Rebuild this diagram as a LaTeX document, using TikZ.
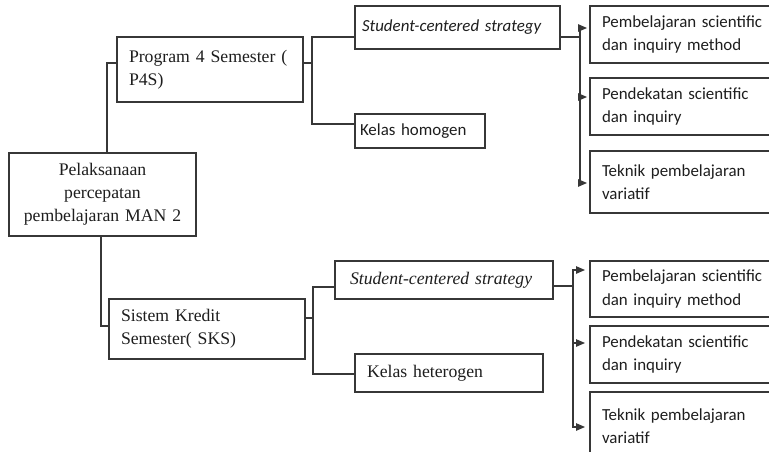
\documentclass[tikz,border=0pt]{standalone}
\usepackage{fontspec}
\setmainfont{Liberation Serif}
\newfontfamily\calfont{Carlito}
\usetikzlibrary{arrows.meta}
\definecolor{lc}{RGB}{55,55,55}
\definecolor{tc}{RGB}{30,30,30}
\begin{document}
\begin{tikzpicture}[x=1pt,y=-1pt,
  every node/.style={inner ysep=0pt, outer sep=0pt},
  bx/.style={draw=lc, line width=1.1pt, anchor=north west, align=left, text=tc},
  tnr/.style={font=\fontsize{17.7}{23}\selectfont},
  cal/.style={font=\calfont\fontsize{16.9}{23.5}\selectfont},
  ln/.style={draw=lc, line width=1.1pt},
  ar/.style={ln, -{Triangle[length=9pt,width=7.5pt]}}]
\clip (0,0) rectangle (769,452);
\fill[white] (0,0) rectangle (769,452);

% nodes
\node[bx,tnr,align=center,text width=179pt,inner xsep=4pt,minimum height=83pt] (root) at (9,153) {Pelaksanaan\\percepatan\\pembelajaran MAN 2};
\node[bx,tnr,text width=162pt,inner xsep=12pt,minimum height=65pt] (p4s) at (117,37) {Program 4 Semester (\\P4S)};
\node[bx,tnr,text width=172pt,inner xsep=12pt,minimum height=60pt] (sks) at (109,299) {Sistem Kredit\\Semester( SKS)};
\node[bx,cal,text width=191pt,inner xsep=7pt,minimum height=43pt] (st1) at (355,6) {\itshape Student-centered strategy};
\node[bx,cal,text width=120pt,inner xsep=5pt,minimum height=34pt] (kh1) at (355,114) {Kelas homogen};
\node[bx,tnr,text width=188pt,inner xsep=15pt,minimum height=38pt] (st2) at (335,261) {\itshape Student-centered strategy};
\node[bx,tnr,text width=164pt,inner xsep=12pt,minimum height=38pt] (kh2) at (355,354) {Kelas heterogen};

\node[bx,cal,text width=190pt,inner xsep=12pt,minimum height=57pt] (r1) at (590,6) {Pembelajaran scientific\\dan inquiry method};
\node[bx,cal,text width=190pt,inner xsep=12pt,minimum height=57pt] (r2) at (590,78) {Pendekatan scientific\\dan inquiry};
\node[bx,cal,text width=190pt,inner xsep=12pt,minimum height=62pt] (r3) at (590,151) {Teknik pembelajaran\\variatif};
\node[bx,cal,text width=190pt,inner xsep=12pt,minimum height=56pt] (r4) at (590,261) {Pembelajaran scientific\\dan inquiry method};
\node[bx,cal,text width=190pt,inner xsep=12pt,minimum height=57pt] (r5) at (590,326) {Pendekatan scientific\\dan inquiry};
\node[bx,cal,text width=190pt,inner xsep=12pt,minimum height=68pt] (r6) at (590,392) {Teknik pembelajaran\\variatif};

% root to level 1
\draw[ln] ([xshift=4.5pt]root.north) |- ([yshift=6.5pt]p4s.west);
\draw[ln] ([xshift=-1.5pt]root.south) |- ([yshift=3pt]sks.west);

% P4S branches
\coordinate (j1) at (312,63);
\draw[ln] ([yshift=6.5pt]p4s.east) -- (j1);
\draw[ln] ([yshift=-9.5pt]st1.west) -| (j1) |- ([yshift=7pt]kh1.west);

% SKS branches
\coordinate (j2) at (313,318);
\draw[ln] ([yshift=11pt]sks.east) -- (j2);
\draw[ln] ([yshift=-7pt]st2.west) -| (j2) |- ([yshift=-1pt]kh2.west);

% top arrows
\coordinate (v1) at (580,37);
\draw[ln] ([yshift=-9.5pt]st1.east) -- (v1);
\draw[ar,shorten >=3pt] (v1) |- ([yshift=6.5pt]r1.west);
\draw[ar,shorten >=3pt] (v1) |- ([yshift=9.5pt]r2.west);
\draw[ar,shorten >=3pt] (v1) |- ([yshift=-1pt]r3.west);

% bottom arrows
\coordinate (v2) at (573,286);
\draw[ln] ([yshift=-6pt]st2.east) -- (v2);
\draw[ar,shorten >=5pt] (v2) |- ([yshift=19pt]r4.west);
\draw[ar,shorten >=5pt] (v2) |- ([yshift=11.5pt]r5.west);
\draw[ar,shorten >=5pt] (v2) |- ([yshift=-1pt]r6.west);
\end{tikzpicture}
\end{document}
